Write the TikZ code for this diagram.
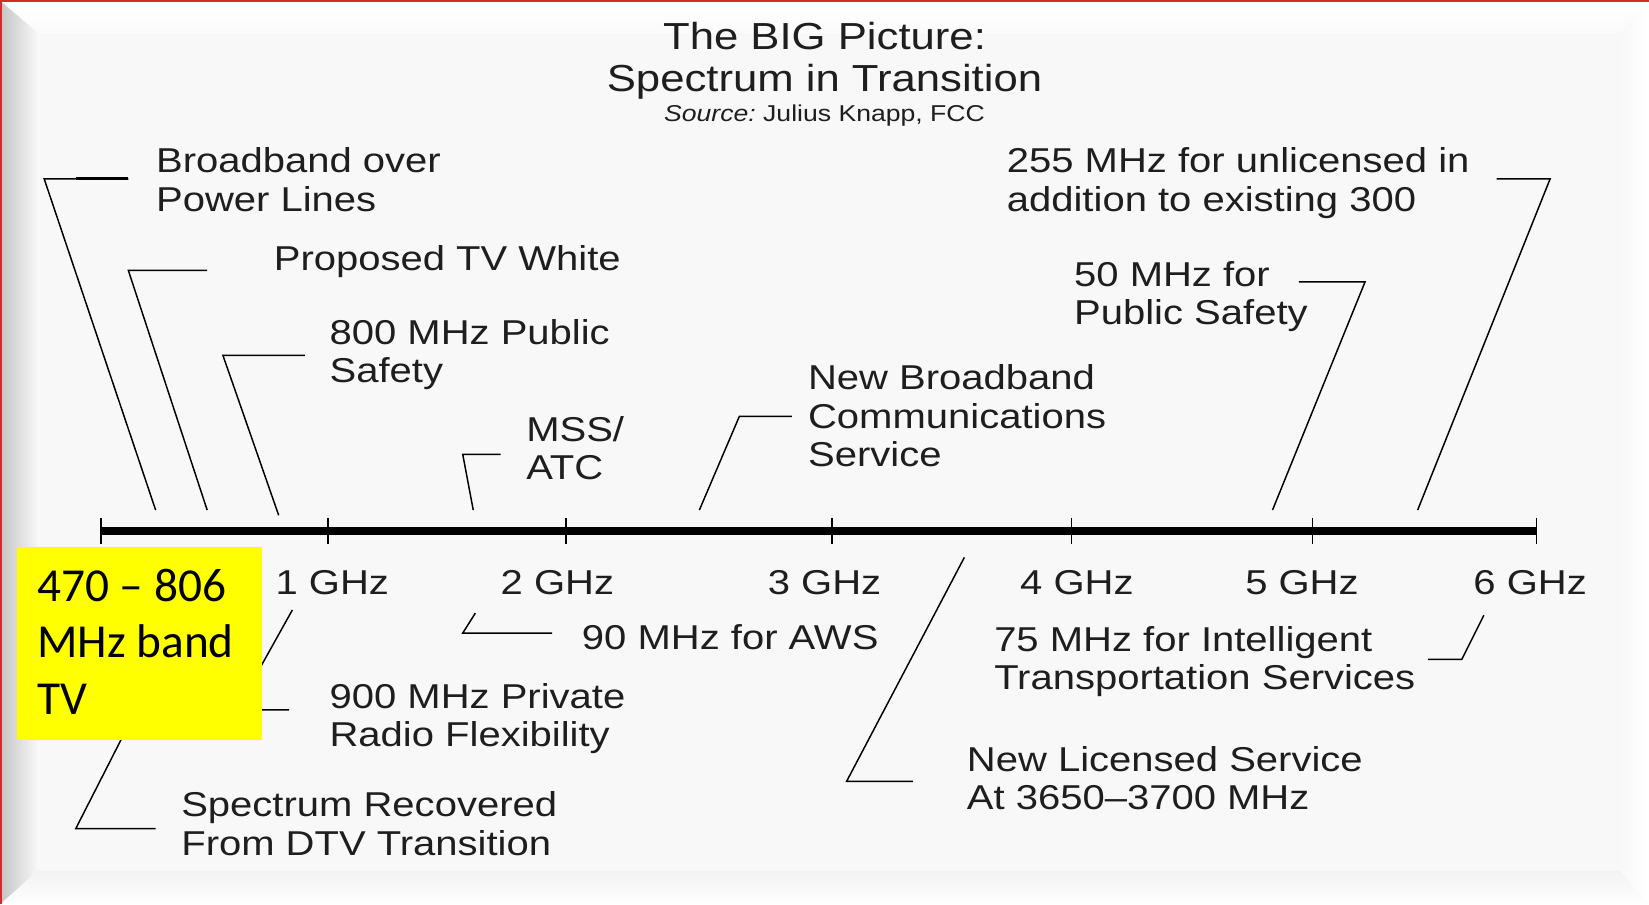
\documentclass[tikz,border=0pt]{standalone}
\usepackage{fontspec}
\setmainfont{Liberation Sans}
\newfontfamily\labfont[FakeStretch=1.16]{Liberation Sans}
\newfontfamily\calfont{Carlito}
\definecolor{txt}{HTML}{1E1E1E}
\definecolor{panel}{HTML}{F8F8F8}
\definecolor{framered}{HTML}{D42A2A}
\definecolor{boxyellow}{HTML}{FFFF00}
\begin{document}
\begin{tikzpicture}[x=0.5pt,y=-0.5pt,
  lbl/.style={anchor=base west, align=left, inner sep=0pt, text=txt,
    font={\labfont\fontsize{16.4pt}{18.3pt}\selectfont}},
  ghz/.style={anchor=base, inner sep=0pt, text=txt,
    font={\labfont\fontsize{16.4pt}{18.3pt}\selectfont}},
  lead/.style={draw=black, line width=0.7pt, line join=miter},
  tick/.style={draw=black, line width=0.8pt}]
% ---------- frame ----------
\useasboundingbox (0,0) rectangle (1568,860);
\fill[white] (0,0) rectangle (1568,860);
\fill[panel] (36,31) rectangle (1540,828);
\shade[left color=black!22, right color=panel] (2,2) -- (36,31) -- (36,828) -- (2,858) -- cycle;
\shade[top color=white, bottom color=panel!60!white] (2,2) -- (1566,2) -- (1540,31) -- (36,31) -- cycle;
\shade[left color=panel, right color=white] (1540,31) -- (1568,2) -- (1568,860) -- (1540,828) -- cycle;
\shade[top color=black!5, bottom color=white] (36,828) -- (1540,828) -- (1568,860) -- (2,860) -- cycle;
\fill[framered] (0,0) rectangle (1568,2);
\fill[framered] (0,0) rectangle (2,860);
% ---------- title ----------
\node[anchor=base, align=center, inner sep=0pt, text=txt,
  font={\labfont\fontsize{17.9pt}{20pt}\selectfont}] (title) at (784,87)
  {The BIG Picture:\\Spectrum in Transition};
\node[anchor=base, inner sep=0pt, text=txt,
  font={\labfont\fontsize{10.9pt}{12pt}\selectfont}] (source) at (784,116)
  {\itshape Source:\upshape\ Julius Knapp, FCC};
% ---------- axis ----------
\coordinate (ax0) at (96,505);
\coordinate (ax6) at (1461,505);
\draw[line width=3.5pt] (ax0) -- (ax6);
\foreach \x in {96,312,538,791,1019,1248,1461}
  \draw[tick] (\x,493) -- (\x,517);
\node[ghz] (g1) at (316,565) {1 GHz};
\node[ghz] (g2) at (530,565) {2 GHz};
\node[ghz] (g3) at (784,565) {3 GHz};
\node[ghz] (g4) at (1024,565) {4 GHz};
\node[ghz] (g5) at (1238,565) {5 GHz};
\node[ghz] (g6) at (1455,565) {6 GHz};
% ---------- labels above (anchored at baseline of last line) ----------
\node[lbl] (bpl) at (148,201) {Broadband over\\Power Lines};
\node[lbl] (tvw) at (260,257) {Proposed TV White};
\node[lbl] (p800) at (313,364) {800 MHz Public\\Safety};
\node[lbl] (mss) at (500,456) {MSS/\\ATC};
\node[lbl] (nbcs) at (768,444) {New Broadband\\Communications\\Service};
\node[lbl] (u255) at (957,201) {255 MHz for unlicensed in\\addition to existing 300};
\node[lbl] (ps50) at (1021,309) {50 MHz for\\Public Safety};
% ---------- labels below ----------
\node[lbl] (aws) at (553,618) {90 MHz for AWS};
\node[lbl] (p900) at (313,710) {900 MHz Private\\Radio Flexibility};
\node[lbl] (dtv) at (172,813) {Spectrum Recovered\\From DTV Transition};
\node[lbl] (its) at (945,656) {75 MHz for Intelligent\\Transportation Services};
\node[lbl] (nls) at (919,770) {New Licensed Service\\At 3650–3700 MHz};
% ---------- leader lines ----------
\coordinate (a1) at (148,485); \coordinate (k1) at (42,170); \coordinate (e1) at (122,170);
\coordinate (a2) at (197,485); \coordinate (k2) at (122,257); \coordinate (e2) at (197,257);
\coordinate (a3) at (265,490); \coordinate (k3) at (212,338); \coordinate (e3) at (290,338);
\coordinate (a4) at (450,485); \coordinate (k4) at (440,432); \coordinate (e4) at (476,432);
\coordinate (a5) at (665,485); \coordinate (k5) at (703,396); \coordinate (e5) at (753,396);
\coordinate (a6) at (1210,485); \coordinate (k6) at (1298,268); \coordinate (e6) at (1235,268);
\coordinate (a7) at (1348,485); \coordinate (k7) at (1474,170); \coordinate (e7) at (1423,170);
\coordinate (a8) at (452,583); \coordinate (k8) at (440,602); \coordinate (e8) at (525,602);
\coordinate (a9) at (278,580); \coordinate (k9) at (225,675); \coordinate (e9) at (275,675);
\coordinate (a10) at (206,525); \coordinate (k10) at (72,788); \coordinate (e10) at (148,788);
\coordinate (a11) at (917,530); \coordinate (k11) at (805,743); \coordinate (e11) at (868,743);
\coordinate (a12) at (1411,585); \coordinate (k12) at (1390,627); \coordinate (e12) at (1358,627);
\foreach \i in {1,...,12}
  \draw[lead] (a\i) -- (k\i) -- (e\i);
\draw[line width=1.6pt] (72,170) -- (e1);
% ---------- yellow box ----------
\node[anchor=north west, fill=boxyellow, minimum width=116.5pt, minimum height=91.5pt,
  inner sep=0pt] (tvbox) at (16,520) {};
\node[anchor=base west, align=left, inner sep=0pt, text=black,
  font={\calfont\fontsize{22.5pt}{26.75pt}\selectfont}] (tvtext) at (35,679)
  {470 – 806\\MHz band\\TV};
\end{tikzpicture}
\end{document}
